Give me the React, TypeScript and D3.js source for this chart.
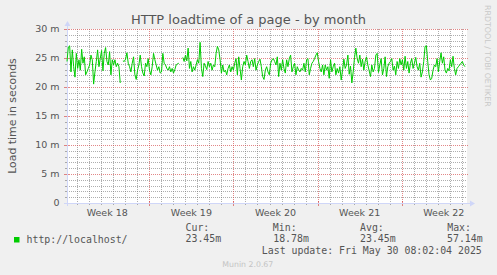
import React from 'react';
import * as d3 from 'd3';

const title = 'HTTP loadtime of a page - by month';
const yAxisLabel = 'Load time in seconds';
const seriesName = 'http://localhost/';
const watermark = 'RRDTOOL / TOBI OETIKER';
const version = 'Munin 2.0.67';
const yTicks = [0, 5, 10, 15, 20, 25, 30];
const yTickLabels = ['0', '5 m', '10 m', '15 m', '20 m', '25 m', '30 m'];
const weekLabels = ['Week 18', 'Week 19', 'Week 20', 'Week 21', 'Week 22'];
const weekStarts = [
  Date.UTC(2025, 3, 28), Date.UTC(2025, 4, 5), Date.UTC(2025, 4, 12),
  Date.UTC(2025, 4, 19), Date.UTC(2025, 4, 26),
];
const legendHeads = ['Cur:', 'Min:', 'Avg:', 'Max:'];
const legendValues = ['23.45m', '18.78m', '23.45m', '57.14m'];
const lastUpdate = 'Last update: Fri May 30 08:02:04 2025';

const viewStart = Date.UTC(2025, 3, 28, 3, 40);
const viewEnd = Date.UTC(2025, 4, 31, 10, 20);
const dataStart = viewStart;
const dataEnd = Date.UTC(2025, 4, 31, 6, 20);

// load time in ms, evenly spaced samples; null = unknown
const loadtime: (number | null)[] = [
  24.4, 26.9, 27.1, 22.6, 26.4, 23.5, 21.7, 25.8, 23.2, 24.7,
  22.9, 26.5, 24.1, 25.2, 22.1, 22.6, 23.2, 23.8, 25.5, 24.7,
  20.5, 22.6, 24.4, 26.4, 23.5, 24.9, 26.3, 22.8, 25.8, 26.8,
  24.4, 23.8, 26.1, 22.1, 24.7, 23.8, 24.7, 23.5, 24.1, 23.5,
  20.7,
  null,
  24.5, 24.4, 24.8, 25.9, 24.1, 23.5, 22.6, 24.1, 25.2, 22.1,
  21.3, 22.9, 23.8, 25.5, 23.5, 22.4, 21.9, 24.1, 23.5, 24.9,
  22.9, 22.1, 23.5, 25.8, 24.7, 23.8, 22.9, 23.5, 22.4, 22.6,
  25.8, 24.1, 23.8, 23.2, 22.9, 23.5, 22.6, 23.2, 22.4, 23.0,
  23.8, 24.0, 24.1,
  null, null,
  25.1, 24.4, 25.5, 24.5, 26.7, 23.2, 24.4, 22.6, 23.5, 22.9,
  23.8, 24.7, 24.1, 27.7, 23.2, 21.8, 24.1, 23.6, 23.0, 24.4,
  23.5, 24.1, 22.9, 23.8, 23.5, 25.8, 27.0, 26.4, 24.7, 22.4,
  23.8, 22.6, 22.9, 22.1, 23.2, 23.8, 22.6, 23.5, 22.9, 24.1,
  24.9, 22.1, 25.2, 23.2, 21.2, 23.5, 24.4, 23.8, 25.5, 24.4,
  23.2,
  24.4, 24.7, 23.5, 24.9, 22.9, 23.8, 24.4, 24.8, 23.5, 21.8,
  21.3, 22.9, 23.5, 22.6, 22.1, 24.1, 24.7, 24.9, 24.4, 23.8,
  25.2, 21.8, 24.1, 22.9, 24.7, 23.2, 22.4, 24.7, 23.5, 24.9,
  25.5, 22.6, 23.5, 24.1, 22.1, 23.5, 22.9, 22.6, 23.2, 22.9,
  24.1, 22.6, 24.7, 24.9, 22.1, 23.2, 24.1, 24.4, 24.9, 25.5,
  25.9, 24.4, 23.2, 22.6, 23.8, 22.1, 23.8, 22.9, 23.5, 21.5,
  24.7, 22.6, 23.5, 24.1, 22.1, 23.2, 22.4, 23.5, 21.2, 22.9,
  24.8, 23.2, 23.8, 25.5, 22.2, 23.6, 20.7, 22.6, 25.1, 26.7,
  24.9, 24.1, 25.5, 23.5, 24.8, 22.9, 24.4, 25.2, 23.8, 22.8,
  21.8, 23.8, 22.6, 23.2, 25.5, 25.8, 22.5, 23.8, 24.9, 22.1,
  23.2, 25.2, 21.8, 23.5, 24.1, 24.4, 24.9, 22.9, 23.6, 22.1,
  24.4, 23.2, 24.9, 23.8, 24.7, 22.9, 25.3, 23.2, 24.4, 22.4,
  24.1, 24.9, 23.2, 24.1, 25.1, 23.5, 22.9, 24.1, 21.7, 22.6,
  24.4, 27.0, 27.1, 24.4, 22.1, 21.2, 21.5, 22.9, 23.8, 23.5,
  24.9, 22.6, 24.4, 25.9, 24.1, 25.2, 22.9, 22.4, 23.2, 22.8,
  24.7, 23.5, 25.3, 23.2, 22.1, 23.2, 23.5, 23.8, 24.1, 24.4,
  23.8, 23.5,
];

const W = 497, H = 275;
const PL = 67, PR = 467, PT = 29, PB = 203;

const FONT = "'DejaVu Sans', sans-serif";
const MONO = "'DejaVu Sans Mono', monospace";
const TXT = '#555';
const AXIS = '#CFD6F8';
const GRID = 'rgba(120,120,120,0.6)';
const MGRID = 'rgba(210,70,70,0.65)';

export default function App() {
  const x = d3.scaleUtc().domain([viewStart, viewEnd]).range([PL, PR]);
  const y = d3.scaleLinear().domain([0, 30]).range([PB, PT]);

  const step = (dataEnd - dataStart) / (loadtime.length - 1);
  const pts = loadtime.map((v, i) => ({ t: dataStart + i * step, v }));
  const line = d3.line<{ t: number; v: number | null }>()
    .defined(d => d.v != null)
    .x(d => x(d.t))
    .y(d => y(d.v as number));

  const minorY = d3.range(1, 30).filter(v => v % 5 !== 0);
  const majorY = yTicks.filter(v => v > 0);
  const days = d3.utcDay.range(new Date(viewStart), new Date(viewEnd));
  const isWeek = (d: Date) => d.getUTCDay() === 1;
  const minorX = days.filter(d => !isWeek(d));
  const majorX = days.filter(d => isWeek(d));
  const px = (v: number) => Math.round(v) + 0.5;

  return (
    <svg width={W} height={H} style={{ position: 'absolute', left: 0, top: 0 }}>
      <rect x={0} y={0} width={W} height={H} fill="#F0F0F0" />
      <rect x={PL} y={PT} width={PR - PL} height={PB - PT} fill="#FFFFFF" />

      <g shapeRendering="crispEdges" strokeDasharray="1,1">
        {minorY.map(v => (
          <line key={'my' + v} x1={PL} x2={PR} y1={px(y(v))} y2={px(y(v))} stroke={GRID} />
        ))}
        {minorX.map(d => (
          <line key={'mx' + +d} x1={px(x(d))} x2={px(x(d))} y1={PT} y2={PB} stroke={GRID} />
        ))}
        {majorY.map(v => (
          <line key={'My' + v} x1={PL} x2={PR + 1} y1={px(y(v))} y2={px(y(v))} stroke={MGRID} />
        ))}
        {majorX.map(d => (
          <line key={'Mx' + +d} x1={px(x(d))} x2={px(x(d))} y1={PT} y2={PB} stroke={MGRID} />
        ))}
      </g>

      <g shapeRendering="crispEdges">
        {minorY.map(v => (
          <line key={'ty' + v} x1={PL - 2} x2={PL} y1={px(y(v))} y2={px(y(v))} stroke={GRID} />
        ))}
        {majorY.map(v => (
          <line key={'tY' + v} x1={PL - 3} x2={PL + 2} y1={px(y(v))} y2={px(y(v))} stroke={MGRID} />
        ))}
        {minorX.map(d => (
          <line key={'tx' + +d} x1={px(x(d))} x2={px(x(d))} y1={PB} y2={PB + 2} stroke={GRID} />
        ))}
        {majorX.map(d => (
          <line key={'tX' + +d} x1={px(x(d))} x2={px(x(d))} y1={PB - 2} y2={PB + 3} stroke={MGRID} />
        ))}
        <line x1={PL - 3} x2={PR + 4} y1={PB + 0.5} y2={PB + 0.5} stroke={AXIS} />
        <line x1={PL + 0.5} x2={PL + 0.5} y1={PB + 3} y2={PT - 4} stroke={AXIS} />
      </g>
      <path d={`M${PR + 8},${PB + 0.5} L${PR + 3},${PB - 2.5} L${PR + 3},${PB + 3.5} Z`} fill={AXIS} />
      <path d={`M${PL + 0.5},${PT - 8} L${PL - 2.5},${PT - 3} L${PL + 3.5},${PT - 3} Z`} fill={AXIS} />

      <path d={line(pts) || ''} fill="none" stroke="#00CC00" strokeWidth={1} />

      <text x={W / 2} y={24} textAnchor="middle" fontFamily={FONT} fontSize={13} fill={TXT}>{title}</text>
      <text transform={`translate(15.5,116) rotate(-90)`} textAnchor="middle" fontFamily={FONT} fontSize={10.9} fill={TXT}>{yAxisLabel}</text>
      <text transform={`translate(485,5) rotate(90)`} textAnchor="start" fontFamily={FONT} fontSize={7.9} fill="#C8C8C8">{watermark}</text>

      {yTicks.map((v, i) => (
        <text key={'yl' + v} x={59.5} y={y(v)} dy="0.36em" textAnchor="end" fontFamily={FONT} fontSize={9.5} fill={TXT}>{yTickLabels[i]}</text>
      ))}
      {weekStarts.map((t, i) => (
        <text key={'wl' + i} x={x(t + 3.5 * 86400000)} y={216} textAnchor="middle" fontFamily={FONT} fontSize={9.5} fill={TXT}>{weekLabels[i]}</text>
      ))}

      <rect x={14} y={237} width={5.5} height={5.5} fill="#00CC00" />
      <text x={26.5} y={242.5} fontFamily={MONO} fontSize={9.9} fill={TXT}>{seriesName}</text>
      {legendHeads.map((h, i) => (
        <g key={'lg' + i}>
          <text x={[185.5, 272.8, 360, 447.2][i]} y={230.7} fontFamily={MONO} fontSize={9.9} fill={TXT}>{h}</text>
          <text x={[185.5, 273.2, 360, 447][i]} y={242.4} fontFamily={MONO} fontSize={9.9} fill={TXT}>{legendValues[i]}</text>
        </g>
      ))}
      <text x={261.8} y={254.4} fontFamily={MONO} fontSize={9.9} fill={TXT}>{lastUpdate}</text>
      <text x={222.3} y={267} fontFamily={FONT} fontSize={7.8} fill="#C4C4C4">{version}</text>
    </svg>
  );
}
